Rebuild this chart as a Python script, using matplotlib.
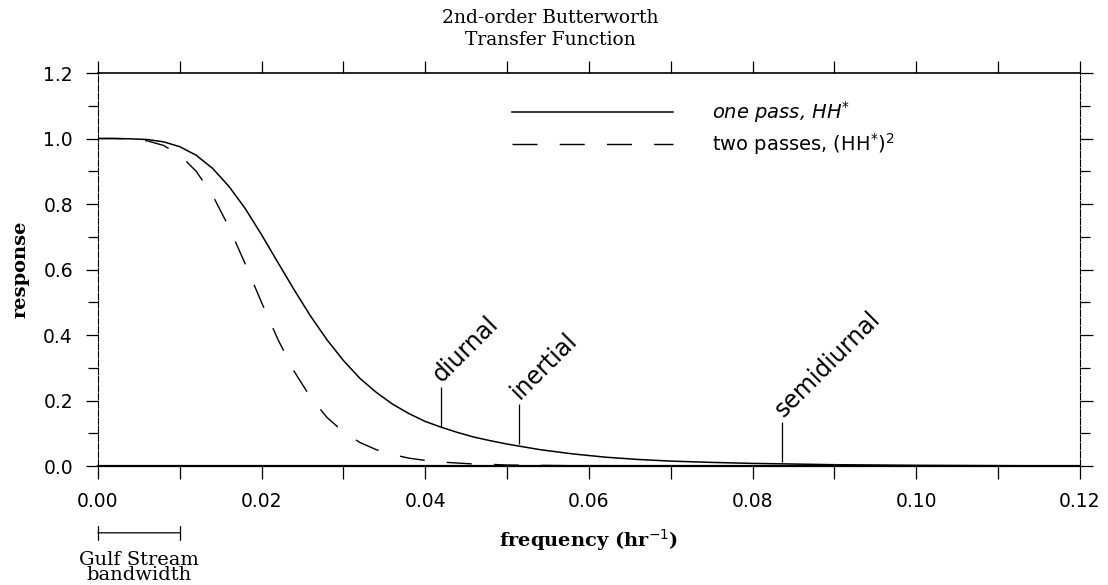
import numpy as np
import matplotlib
matplotlib.use('Agg')
import matplotlib.pyplot as plt
from matplotlib.ticker import MultipleLocator, FormatStrFormatter

# values
freq = [0.000, 0.002, 0.004, 0.006, 0.008, 0.010, 0.012, 0.014, 0.016, 0.018,
        0.020, 0.022, 0.024, 0.026, 0.028, 0.030, 0.032, 0.034, 0.036, 0.038,
        0.040, 0.042, 0.044, 0.046, 0.048, 0.050, 0.054, 0.058, 0.062, 0.066,
        0.070, 0.075, 0.080, 0.085, 0.090, 0.100, 0.110, 0.120]
one_pass = [1.000, 1.000, 0.999, 0.997, 0.990, 0.975, 0.949, 0.909, 0.854, 0.786,
            0.706, 0.621, 0.537, 0.457, 0.385, 0.322, 0.268, 0.225, 0.189, 0.160,
            0.136, 0.118, 0.102, 0.088, 0.077, 0.067, 0.050, 0.037, 0.027, 0.020,
            0.015, 0.011, 0.008, 0.006, 0.004, 0.002, 0.001, 0.000]
two_pass = [1.000, 1.000, 0.999, 0.993, 0.979, 0.950, 0.900, 0.827, 0.730, 0.617,
            0.499, 0.386, 0.288, 0.209, 0.148, 0.104, 0.072, 0.050, 0.035, 0.024,
            0.017, 0.012, 0.009, 0.006, 0.005, 0.003, 0.002, 0.001, 0.001, 0.000,
            0.000, 0.000, 0.000, 0.000, 0.000, 0.000, 0.000, 0.000]

# tidal / inertial marks: frequency, curve value, top of marker line
mark_names = ['diurnal', 'inertial', 'semidiurnal']
mark_freq = [0.0419, 0.0514, 0.0836]
mark_low = [0.118, 0.066, 0.012]
mark_high = [0.240, 0.190, 0.134]

band = [0.0, 0.01]   # Gulf Stream bandwidth

fig = plt.figure(figsize=(11.08, 5.85), dpi=100)
ax = fig.add_axes([0.0884, 0.2034, 0.8863, 0.6718])

ax.plot(freq, one_pass, color='black', lw=1.1, label='one pass, HH$^{*}$')
ax.plot(freq, two_pass, color='black', lw=1.0, dashes=(18, 16),
        label='two passes, (HH$^{*}$)$^{2}$')

ax.set_xlim(0, 0.12)
ax.set_ylim(0, 1.2)

ax.xaxis.set_major_locator(MultipleLocator(0.02))
ax.xaxis.set_minor_locator(MultipleLocator(0.01))
ax.yaxis.set_major_locator(MultipleLocator(0.2))
ax.yaxis.set_minor_locator(MultipleLocator(0.1))
ax.xaxis.set_major_formatter(FormatStrFormatter('%.2f'))
ax.yaxis.set_major_formatter(FormatStrFormatter('%.1f'))

ax.tick_params(axis='both', which='both', direction='out', top=True, right=True,
               width=0.9, labelsize=13.5)
ax.tick_params(axis='x', which='major', length=9, pad=10)
ax.tick_params(axis='x', which='minor', length=9)
ax.tick_params(axis='y', which='major', length=9, pad=9)
ax.tick_params(axis='y', which='minor', length=7)
for lab in ax.get_xticklabels() + ax.get_yticklabels():
    lab.set_family('DejaVu Sans')

ax.spines['bottom'].set_linewidth(1.6)
ax.spines['top'].set_linewidth(1.2)
for s in ['left', 'right']:
    ax.spines[s].set_linewidth(0.8)
    ax.spines[s].set_linestyle((0, (6, 1.5)))

ax.set_xlabel('frequency (hr$^{-1}$)', family='DejaVu Serif', fontweight='bold',
              fontsize=14)
ax.xaxis.set_label_coords(0.5, -0.155)
ax.set_ylabel('response', family='DejaVu Serif', fontweight='bold', fontsize=14)
ax.yaxis.set_label_coords(-0.07, 0.5)

fig.text(550 / 1108, 1 - 9 / 585, '2nd-order Butterworth\nTransfer Function',
         ha='center', va='top', family='DejaVu Serif', fontsize=13.5,
         linespacing=1.3)

leg = ax.legend(loc='upper left', bbox_to_anchor=(0.4216, 0.934), frameon=False,
                fontsize=14, handlelength=8.3, handletextpad=2.0,
                labelspacing=0.3, borderpad=0, borderaxespad=0)
leg.get_texts()[0].set_fontstyle('italic')

for name, f, lo, hi in zip(mark_names, mark_freq, mark_low, mark_high):
    ax.vlines(f, lo, hi, color='black', lw=0.9)
    ax.text(f + 0.0006, hi + 0.002, name, rotation=45, rotation_mode='anchor',
            ha='left', va='bottom', fontsize=17, family='DejaVu Sans')

# bandwidth bracket below the axis
ax.annotate('', xy=(band[0], -0.17), xytext=(band[1], -0.17),
            xycoords=('data', 'axes fraction'), textcoords=('data', 'axes fraction'),
            arrowprops=dict(arrowstyle='|-|', lw=0.9, mutation_scale=5,
                            shrinkA=0, shrinkB=0))
ax.text(np.mean(band), -0.215, 'Gulf Stream\nbandwidth', transform=ax.get_xaxis_transform(),
        ha='center', va='top', family='DejaVu Serif', fontsize=14, linespacing=0.8)

fig.savefig('out.png', dpi=100)
